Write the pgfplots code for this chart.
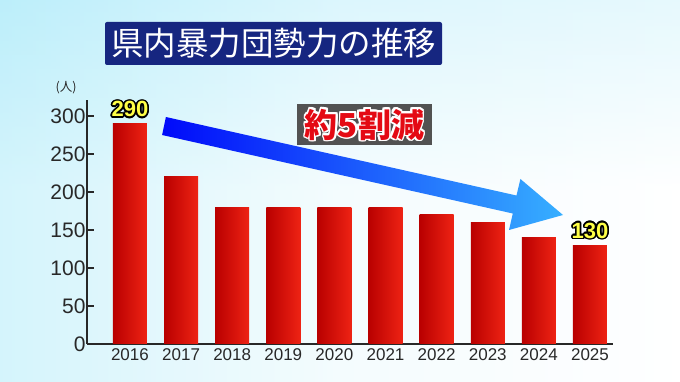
\documentclass[border=0pt]{standalone}
\usepackage{fontspec}
\setmainfont{Liberation Sans}
\newfontfamily\jp{Noto Sans CJK JP}
\usepackage{pgfplots}
\pgfplotsset{compat=1.18}
\usetikzlibrary{calc}
\definecolor{navy}{RGB}{22,38,128}
\definecolor{bgblue}{RGB}{178,236,250}
\definecolor{axgray}{RGB}{40,40,40}
\definecolor{barL}{RGB}{185,0,0}
\definecolor{barR}{RGB}{238,35,20}
\definecolor{arrL}{RGB}{0,10,250}
\definecolor{arrR}{RGB}{55,175,255}
\definecolor{boxgray}{RGB}{82,82,82}
\definecolor{txtred}{RGB}{228,10,20}
\definecolor{lblyellow}{RGB}{255,255,70}
\newcommand{\outl}[6]{%
  \foreach \a in {0,22.5,...,337.5}{\node[text=#4,font=#6,inner sep=0pt] at ($(#1)+(\a:#5)$) {#2};}
  \node[text=#3,font=#6,inner sep=0pt] at (#1) {#2};}
\begin{document}
\begin{tikzpicture}
\fill[white] (0pt,0pt) rectangle (680pt,382pt);
\shade[left color=bgblue, right color=white, middle color=bgblue!25!white] (0pt,0pt) rectangle (680pt,382pt);
\shade[top color=bgblue!70!white, bottom color=white, middle color=white, opacity=0.45] (0pt,0pt) rectangle (680pt,382pt);
\useasboundingbox (0pt,0pt) rectangle (680pt,382pt);
\begin{axis}[
  at={(87pt,38pt)}, anchor=south west,
  scale only axis, width=526pt, height=244pt,
  xmin=-0.84, xmax=9.45, ymin=0, ymax=321,
  axis lines*=left,
  axis line style={draw=axgray, line width=1.6pt},
  ytick={0,50,100,150,200,250,300},
  xtick={0,1,2,3,4,5,6,7,8,9},
  xticklabels={2016,2017,2018,2019,2020,2021,2022,2023,2024,2025},
  tick align=inside,
  major tick length=7pt,
  ytick style={draw=axgray, line width=1.3pt},
  xtick style={draw=none},
  /pgf/number format/assume math mode=true,
  yticklabel style={font=\fontsize{21}{21}\selectfont, text=axgray, xshift=2pt},
  xticklabel style={font=\fontsize{17}{17}\selectfont, text=axgray, yshift=-1pt},
  clip=false,
]
\addplot[ybar, bar width=34pt, bar shift=0pt, draw=none, left color=barL, right color=barR] coordinates {(0,290)};
\addplot[ybar, bar width=34pt, bar shift=0pt, draw=none, left color=barL, right color=barR] coordinates {(1,220)};
\addplot[ybar, bar width=34pt, bar shift=0pt, draw=none, left color=barL, right color=barR] coordinates {(2,180)};
\addplot[ybar, bar width=34pt, bar shift=0pt, draw=none, left color=barL, right color=barR] coordinates {(3,180)};
\addplot[ybar, bar width=34pt, bar shift=0pt, draw=none, left color=barL, right color=barR] coordinates {(4,180)};
\addplot[ybar, bar width=34pt, bar shift=0pt, draw=none, left color=barL, right color=barR] coordinates {(5,180)};
\addplot[ybar, bar width=34pt, bar shift=0pt, draw=none, left color=barL, right color=barR] coordinates {(6,170)};
\addplot[ybar, bar width=34pt, bar shift=0pt, draw=none, left color=barL, right color=barR] coordinates {(7,160)};
\addplot[ybar, bar width=34pt, bar shift=0pt, draw=none, left color=barL, right color=barR] coordinates {(8,140)};
\addplot[ybar, bar width=34pt, bar shift=0pt, draw=none, left color=barL, right color=barR] coordinates {(9,130)};
\coordinate (a) at (axis cs:0,290);
\coordinate (b) at (axis cs:9,130);
\end{axis}
% (人)
\node[font=\jp\fontsize{12.5}{12.5}\selectfont, text=axgray, inner sep=0pt] at (66pt,294pt) {(人)};
% title
\node[fill=navy, rounded corners=2pt, minimum width=337pt, minimum height=43pt, inner sep=0pt,
      text=white, font=\jp\fontsize{32.5}{32.5}\selectfont] at (273.5pt,338.5pt) {県内暴力団勢力の推移};
% arrow
\shade[left color=arrL, right color=arrR]
  (165.9pt,265pt) -- (516.5pt,186.5pt) -- (520.4pt,203pt) -- (563pt,167pt)
  -- (509pt,152pt) -- (512.8pt,168.5pt) -- (162.1pt,247pt) -- cycle;
% gray box
\node[fill=boxgray, minimum width=135pt, minimum height=41pt, inner sep=0pt] at (364.5pt,257.5pt) {};
\outl{364.5pt,257.5pt}{約5割減}{txtred}{white}{1.5pt}{\jp\bfseries\fontsize{33}{33}\selectfont}
% value labels
\outl{$(a)+(0,14.5pt)$}{290}{lblyellow}{black}{1.6pt}{\bfseries\fontsize{22}{22}\selectfont}
\outl{$(b)+(0,14.5pt)$}{130}{lblyellow}{black}{1.6pt}{\bfseries\fontsize{22}{22}\selectfont}
\end{tikzpicture}
\end{document}
